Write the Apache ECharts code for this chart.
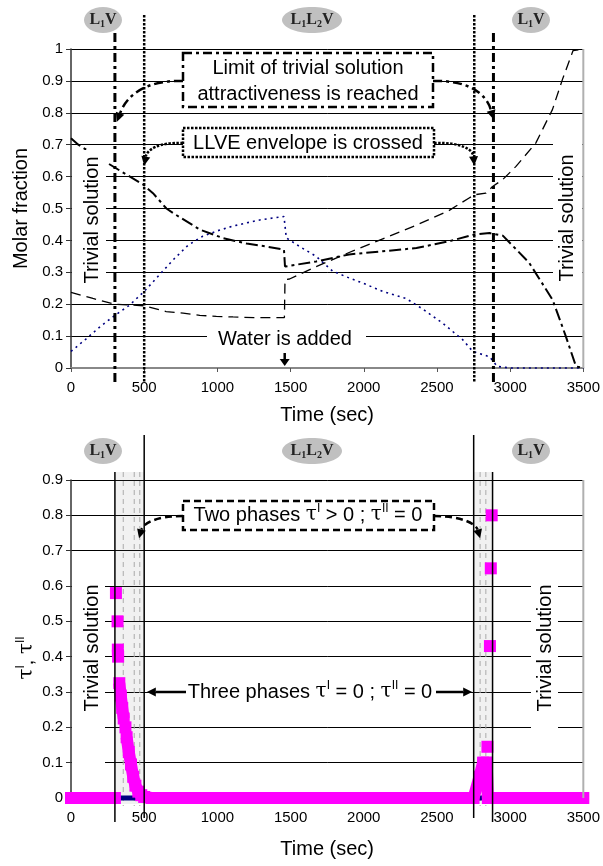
<!DOCTYPE html>
<html><head><meta charset="utf-8">
<script src="https://cdn.jsdelivr.net/npm/echarts@6/dist/echarts.min.js"></script>
<style>html,body{margin:0;padding:0;background:#fff}#c{width:603px;height:866px}</style>
</head><body><div id="c"></div>
<script>
// ---------------- data ----------------
const X_TICKS = [0, 500, 1000, 1500, 2000, 2500, 3000, 3500];
const TOP_Y_TICKS = [0, 0.1, 0.2, 0.3, 0.4, 0.5, 0.6, 0.7, 0.8, 0.9, 1];
const BOTTOM_Y_TICKS = [0, 0.1, 0.2, 0.3, 0.4, 0.5, 0.6, 0.7, 0.8, 0.9];

// top chart: molar fractions
const highTime = [0, 50, 240, 380, 493, 560, 652, 700, 880, 1040, 1200, 1334, 1455, 1462, 1675, 1900, 2130, 2360, 2580, 2750, 2860, 2950, 3130, 3290, 3380, 3450, 3500];
const highFrac = [0.72, 0.70, 0.645, 0.606, 0.575, 0.548, 0.50, 0.485, 0.434, 0.407, 0.39, 0.381, 0.371, 0.318, 0.334, 0.356, 0.366, 0.376, 0.397, 0.418, 0.423, 0.415, 0.33, 0.214, 0.10, 0.005, 0];

const lowTime = [0, 150, 300, 500, 650, 766, 880, 993, 1107, 1250, 1458, 1462, 1493, 1675, 1900, 2130, 2360, 2580, 2720, 2755, 2834, 2880, 2948, 3040, 3175, 3289, 3357, 3430, 3500];
const lowFrac = [0.237, 0.218, 0.2, 0.195, 0.177, 0.172, 0.165, 0.162, 0.16, 0.158, 0.158, 0.277, 0.279, 0.318, 0.362, 0.405, 0.448, 0.493, 0.533, 0.543, 0.548, 0.569, 0.59, 0.632, 0.705, 0.81, 0.904, 0.995, 1.0];

const blueTime = [0, 100, 200, 300, 400, 500, 600, 700, 800, 900, 1000, 1100, 1200, 1300, 1455, 1471, 1561, 1675, 1789, 1902, 2000, 2130, 2289, 2402, 2538, 2675, 2745, 2860, 2912, 3000, 3500];
const blueFrac = [0.052, 0.09, 0.13, 0.165, 0.197, 0.24, 0.29, 0.34, 0.385, 0.413, 0.43, 0.444, 0.455, 0.465, 0.475, 0.408, 0.381, 0.35, 0.303, 0.282, 0.265, 0.24, 0.218, 0.185, 0.141, 0.089, 0.052, 0.035, 0.005, 0, 0];

// bottom chart: tau I (magenta, null = break) and tau II (navy)
const tauITime = [0, 100, 200, 300, 304, 307, 312, 318, 319, 320, 322, 325, 330, 340, 350, 360, 366, 372, 376, 380, 395, 410, 425, 440, 460, 480, 500, 550, 1000, 1500, 2000, 2500, 2750, 2790, 2815, 2840, 2848, 2849, 2845, 2846, 2862, 2863, 2868, 2869, 2874, 2875, 2880, 3000, 3500];
const tauIVal  = [0, 0, 0, 0, null, 0.58, null, 0.50, null, 0.42, 0.40, null, 0.325, 0.29, 0.255, 0.225, null, 0.20, null, 0.172, 0.13, 0.095, 0.06, 0.035, 0.018, 0.008, 0.003, 0, 0, 0, 0, 0, 0, 0.06, 0.10, 0.10, 0, null, 0.145, null, 0.43, null, 0.65, null, 0.80, null, 0, 0, 0];
const tauIITime = [0, 300, 500, 2750, 2880, 3500];
const tauIIVal  = [0, 0, 0, 0, 0, 0];

// event times
const TRIVIAL_LIMIT_TIMES = [300, 2886];
const LLVE_CROSS_TIMES = [500, 2755];
const WATER_TIME = 1460;
const PHASE_OUTER = [300, 2880];
const PHASE_INNER = [500, 2751];
const BAND_DASH_TIMES = [357, 432, 470, 2795, 2834];

// ---------------- chart ----------------
const FONT = '"Liberation Sans", Arial, sans-serif';
const pairs = (ts, vs) => ts.map((t, i) => [t, vs[i] === null ? '-' : vs[i]]);
const plain = v => String(+v.toFixed(6));

function xAxisCfg(gi, gap) {
  return {
    gridIndex: gi, type: 'value', min: X_TICKS[0], max: X_TICKS[X_TICKS.length - 1],
    interval: X_TICKS[1] - X_TICKS[0],
    name: 'Time (sec)', nameLocation: 'middle', nameGap: gap,
    nameTextStyle: { fontFamily: FONT, fontSize: 20, color: '#000' },
    axisLine: { show: true, lineStyle: { color: '#888', width: 2 } },
    axisTick: { show: true, length: 4, lineStyle: { color: '#555' } },
    axisLabel: { fontFamily: FONT, fontSize: 15, color: '#000', margin: 12, formatter: plain },
    splitLine: { show: false }
  };
}
function yAxisCfg(gi, ticks, name) {
  return {
    gridIndex: gi, type: 'value', min: ticks[0], max: ticks[ticks.length - 1],
    interval: +(ticks[1] - ticks[0]).toFixed(6),
    name: name, nameLocation: 'middle', nameGap: 37,
    nameTextStyle: { fontFamily: FONT, fontSize: 20, color: '#000' },
    axisLine: { show: true, lineStyle: { color: '#333', width: 1.5 } },
    axisTick: { show: true, length: 5, lineStyle: { color: '#333' } },
    axisLabel: { fontFamily: FONT, fontSize: 15, color: '#000', margin: 8, formatter: plain },
    splitLine: { show: true, lineStyle: { color: '#000', width: 1 } }
  };
}

const chart = echarts.init(document.getElementById('c'), null, { renderer: 'canvas' });
chart.setOption({
  animation: false,
  backgroundColor: '#fff',
  grid: [
    { left: 71, top: 49, width: 514, height: 319 },
    { left: 71, top: 480, width: 514, height: 318 }
  ],
  xAxis: [xAxisCfg(0, 37), xAxisCfg(1, 41)],
  yAxis: [yAxisCfg(0, TOP_Y_TICKS, 'Molar fraction'), yAxisCfg(1, BOTTOM_Y_TICKS, '')],
  series: [
    { type: 'line', xAxisIndex: 0, yAxisIndex: 0, data: pairs(blueTime, blueFrac), showSymbol: false, clip: false, z: 3,
      lineStyle: { color: '#000080', width: 1.6, type: [2, 4] } },
    { type: 'line', xAxisIndex: 0, yAxisIndex: 0, data: pairs(lowTime, lowFrac), showSymbol: false, clip: false, z: 3,
      lineStyle: { color: '#000', width: 1.3, type: [10, 6] } },
    { type: 'line', xAxisIndex: 0, yAxisIndex: 0, data: pairs(highTime, highFrac), showSymbol: false, clip: false, z: 4,
      lineStyle: { color: '#000', width: 2, type: [12, 4, 3, 4] } },
    { type: 'line', xAxisIndex: 1, yAxisIndex: 1, data: pairs(tauIITime, tauIIVal), showSymbol: false, clip: false, z: 2,
      lineStyle: { color: '#000080', width: 5 } },
    { type: 'line', xAxisIndex: 1, yAxisIndex: 1, data: pairs(tauITime, tauIVal), showSymbol: true, showAllSymbol: true,
      symbol: 'rect', symbolSize: 12, clip: false, z: 3, connectNulls: false,
      itemStyle: { color: '#ff00ff', borderWidth: 0 },
      lineStyle: { color: '#ff00ff', width: 12, cap: 'butt', join: 'miter' } }
  ]
});

// ---------------- annotations ----------------
const P0 = (t, v) => chart.convertToPixel({ gridIndex: 0 }, [t, v]);
const P1 = (t, v) => chart.convertToPixel({ gridIndex: 1 }, [t, v]);
const g = [];
const top0 = P0(0, 1)[1], bot0 = P0(0, 0)[1], right0 = P0(3500, 0)[0];
const top1 = P1(0, 0.9)[1], bot1 = P1(0, 0)[1];

function line(x1, y1, x2, y2, stroke, lw, dash, z) {
  g.push({ type: 'line', silent: true, z: z || 10, shape: { x1, y1, x2, y2 },
    style: { stroke, lineWidth: lw, lineDash: dash || null } });
}
function rect(x, y, w, h, fill, stroke, lw, dash, z) {
  g.push({ type: 'rect', silent: true, z: z || 10, shape: { x, y, width: w, height: h },
    style: { fill, stroke: stroke || null, lineWidth: lw || 0, lineDash: dash || null } });
}
function text(x, y, str, size, opts) {
  opts = opts || {};
  g.push({ type: 'text', silent: true, z: opts.z || 11, x, y, rotation: opts.rot || 0,
    style: { text: str, fill: '#000', font: (opts.weight || 'normal') + ' ' + size + 'px ' + (opts.family || FONT),
      align: 'center', verticalAlign: 'middle', lineHeight: opts.lh || size * 1.2, rich: opts.rich || undefined } });
}
function head(tip, from, hl, hw) {
  const dx = tip[0] - from[0], dy = tip[1] - from[1], L = Math.hypot(dx, dy), ux = dx / L, uy = dy / L;
  const b = [tip[0] - ux * hl, tip[1] - uy * hl];
  g.push({ type: 'polygon', silent: true, z: 12, shape: { points: [tip, [b[0] - uy * hw, b[1] + ux * hw], [b[0] + uy * hw, b[1] - ux * hw]] },
    style: { fill: '#000' } });
  return b;
}
function curved(p0, c1, c2, tip, dash, lw) {
  const b = head(tip, c2, 9, 4.5);
  g.push({ type: 'bezierCurve', silent: true, z: 12,
    shape: { x1: p0[0], y1: p0[1], cpx1: c1[0], cpy1: c1[1], cpx2: c2[0], cpy2: c2[1], x2: b[0], y2: b[1] },
    style: { stroke: '#000', lineWidth: lw, lineDash: dash, fill: 'none' } });
}
function straight(p0, tip, lw) {
  const b = head(tip, p0, 9, 4.5);
  line(p0[0], p0[1], b[0], b[1], '#000', lw, null, 12);
}

// right borders
line(right0, top0, right0, bot0, '#b0b0b0', 2, null, 5);
line(right0, top1, right0, bot1, '#b0b0b0', 2, null, 5);

// ---- top chart ----
const DASHDOT = [9, 4, 3, 4];
const DOT = [2.5, 1.5];
TRIVIAL_LIMIT_TIMES.forEach(t => line(P0(t, 0)[0], top0 - 16, P0(t, 0)[0], bot0 + 14, '#000', 3, DASHDOT, 9));
LLVE_CROSS_TIMES.forEach(t => line(P0(t, 0)[0], top0 - 34, P0(t, 0)[0], bot0 + 14, '#000', 2.5, DOT, 9));

// white boxes for trivial solution labels (cover grid and curves like the original text boxes)
rect(72, 150, 34, 140, '#fff', null, 0, null, 5);
rect(553, 130, 29, 160, '#fff', null, 0, null, 5);
text(92, 220, 'Trivial solution', 20, { rot: Math.PI / 2, z: 6 });
text(567, 218, 'Trivial solution', 20, { rot: Math.PI / 2, z: 6 });

// limit box
rect(183, 53, 250, 54, '#fff', '#000', 2.5, DASHDOT, 10);
text(308, 81, 'Limit of trivial solution\nattractiveness is reached', 20, { lh: 26 });
curved([183, 81], [150, 80], [128, 92], [P0(TRIVIAL_LIMIT_TIMES[0], 0)[0] + 2, P0(0, 0.772)[1]], DASHDOT, 2.5);
curved([433, 81], [466, 80], [486, 92], [P0(TRIVIAL_LIMIT_TIMES[1], 0)[0], P0(0, 0.78)[1]], DASHDOT, 2.5);

// LLVE box
rect(183, 128, 251, 29, '#fff', '#000', 2.5, DOT, 10);
text(308, 143, 'LLVE envelope is crossed', 20);
curved([183, 143], [158, 142], [147, 150], [P0(LLVE_CROSS_TIMES[0], 0)[0], P0(0, 0.635)[1]], DOT, 2.5);
curved([434, 143], [462, 142], [473, 150], [P0(LLVE_CROSS_TIMES[1], 0)[0], P0(0, 0.635)[1]], DOT, 2.5);

// water
rect(207, 327, 159, 24, '#fff', null, 0, null, 1);
text(285, 339, 'Water is added', 20, { z: 2 });
const wx = P0(WATER_TIME, 0)[0];
line(wx, 353, wx, 360, '#000', 2.5, null, 12);
g.push({ type: 'polygon', silent: true, z: 12, shape: { points: [[wx - 5, 359], [wx + 5, 359], [wx, 366]] }, style: { fill: '#000' } });

// ---- bottom chart ----
rect(P1(PHASE_OUTER[0], 0)[0], top1 - 8, P1(PHASE_INNER[0], 0)[0] - P1(PHASE_OUTER[0], 0)[0], bot1 - top1 + 14, 'rgba(120,120,120,0.10)', null, 0, null, 1);
rect(P1(PHASE_INNER[1], 0)[0], top1 - 8, P1(PHASE_OUTER[1], 0)[0] - P1(PHASE_INNER[1], 0)[0], bot1 - top1 + 14, 'rgba(120,120,120,0.10)', null, 0, null, 1);
BAND_DASH_TIMES.forEach(t => line(P1(t, 0)[0], top1 - 8, P1(t, 0)[0], bot1 + 8, '#aaa', 1, [5, 4], 1));
PHASE_OUTER.forEach(t => line(P1(t, 0)[0], top1 - 8, P1(t, 0)[0], bot1 + 24, '#000', 1.5, null, 9));
PHASE_INNER.forEach(t => line(P1(t, 0)[0], top1 - 45, P1(t, 0)[0], bot1 + 20, '#000', 1.5, null, 9));

rect(72, 570, 33, 195, '#fff', null, 0, null, 1);
rect(531, 570, 27, 180, '#fff', null, 0, null, 1);
text(92, 648, 'Trivial solution', 20, { rot: Math.PI / 2, z: 2 });
text(545, 648, 'Trivial solution', 20, { rot: Math.PI / 2, z: 2 });

const supRich = {
  n: { font: '20px ' + FONT, fill: '#000' },
  g: { font: '20px "DejaVu Serif", serif', fill: '#000' },
  s: { font: '12px ' + FONT, fill: '#000', verticalAlign: 'top', padding: [0, 0, 10, 0] }
};
rect(183, 501, 251, 29, '#fff', '#000', 2.5, [7, 4], 10);
text(308, 515, '{n|Two phases }{g|τ}{s|I}{n| > 0 ; }{g|τ}{s|II}{n| = 0}', 20, { rich: supRich });
curved([183, 516], [155, 516], [143, 524], P1(465, 0.735), [7, 4], 2.5);
curved([434, 516], [462, 516], [476, 524], P1(2795, 0.735), [7, 4], 2.5);

const y3 = P1(0, 0.3)[1];
rect(186, y3 - 12, 250, 24, '#fff', null, 0, null, 1);
text(310, y3, '{n|Three phases }{g|τ}{s|I}{n| = 0 ; }{g|τ}{s|II}{n| = 0}', 20, { rich: supRich, z: 11 });
straight([186, y3], P1(518, 0.3), 2.5);
straight([436, y3], P1(2741, 0.3), 2.5);

// bottom y-axis name
text(27, 658, '{g|τ}{s|I}{n|, }{g|τ}{s|II}', 20, { rot: Math.PI / 2, rich: supRich });

// phase ellipses
const lRich = {
  b: { font: 'bold 16px "Liberation Serif", serif', fill: '#222' },
  s: { font: 'bold 10px "Liberation Serif", serif', fill: '#222', verticalAlign: 'bottom', padding: [6, 0, 0, 0] }
};
[20, 451].forEach(cy => {
  [[103, 19, '{b|L}{s|1}{b|V}'], [312, 30, '{b|L}{s|1}{b|L}{s|2}{b|V}'], [531, 19, '{b|L}{s|1}{b|V}']].forEach(([cx, rx, s]) => {
    g.push({ type: 'ellipse', silent: true, z: 10, shape: { cx, cy, rx, ry: 13 }, style: { fill: '#c0c0c0' } });
    text(cx, cy, s, 16, { rich: lRich });
  });
});

chart.setOption({ graphic: g });
</script>
</body></html>
